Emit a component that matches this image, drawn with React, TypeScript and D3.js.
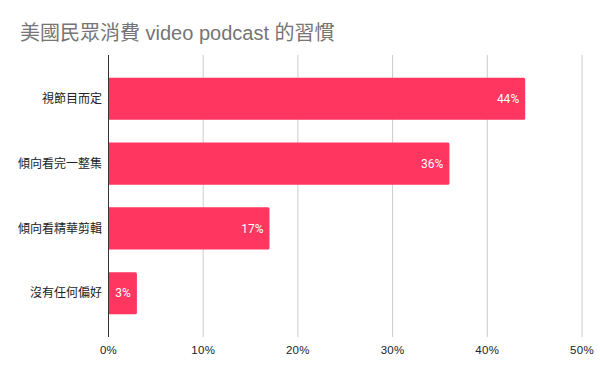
import React from "react";
import * as d3 from "d3";

const categories = ["視節目而定", "傾向看完一整集", "傾向看精華剪輯", "沒有任何偏好"];
const values = [44, 36, 17, 3];
const ticks = [0, 10, 20, 30, 40, 50];
const title = "美國民眾消費 video podcast 的習慣";

const W = 600;
const H = 376;
const FONT = "'Liberation Sans', Arial, 'Noto Sans CJK TC', sans-serif";
const FONT_VAL = "Roboto, 'Noto Sans CJK TC', sans-serif";

export default function App() {
  const x = d3.scaleLinear().domain([0, 50]).range([108.5, 582]);
  const y = d3.scaleBand<string>().domain(categories).range([55, 337]).padding(0.35);
  return (
    <svg width={W} height={H} style={{ position: "absolute", left: 0, top: 0, fontFamily: FONT }}>
      <rect width={W} height={H} fill="#fff" />
      <text x={20} y={40} fontSize={20} fill="#757575">{title}</text>
      {ticks.map((t) => (
        <g key={t}>
          {t !== 0 && (
            <line x1={x(t)} x2={x(t)} y1={55} y2={337} stroke="#cccccc" strokeWidth={1} />
          )}
          <text x={x(t)} y={354} fontSize={11.5} textAnchor="middle" fill="#222" letterSpacing={0.3}>{t}%</text>
        </g>
      ))}
      {categories.map((c, i) => {
        const y0 = y(c)!;
        const bw = y.bandwidth();
        const x1 = x(values[i]);
        const x0 = x(0);
        return (
          <g key={c}>
            <path
              d={`M${x0},${y0}H${x1 - 1.5}Q${x1},${y0} ${x1},${y0 + 1.5}V${y0 + bw - 1.5}Q${x1},${y0 + bw} ${x1 - 1.5},${y0 + bw}H${x0}Z`}
              fill="#ff3660"
            />
            <text x={x1 - 6} y={y0 + bw / 2} dy="0.35em" fontSize={12} textAnchor="end" fill="#fff" fontFamily={FONT_VAL}>
              {values[i]}%
            </text>
            <text x={102} y={y0 + bw / 2} dy="0.35em" fontSize={12} textAnchor="end" fill="#222">
              {c}
            </text>
          </g>
        );
      })}
      <line x1={x(0)} x2={x(0)} y1={55} y2={337} stroke="#333" strokeWidth={1} />
    </svg>
  );
}
